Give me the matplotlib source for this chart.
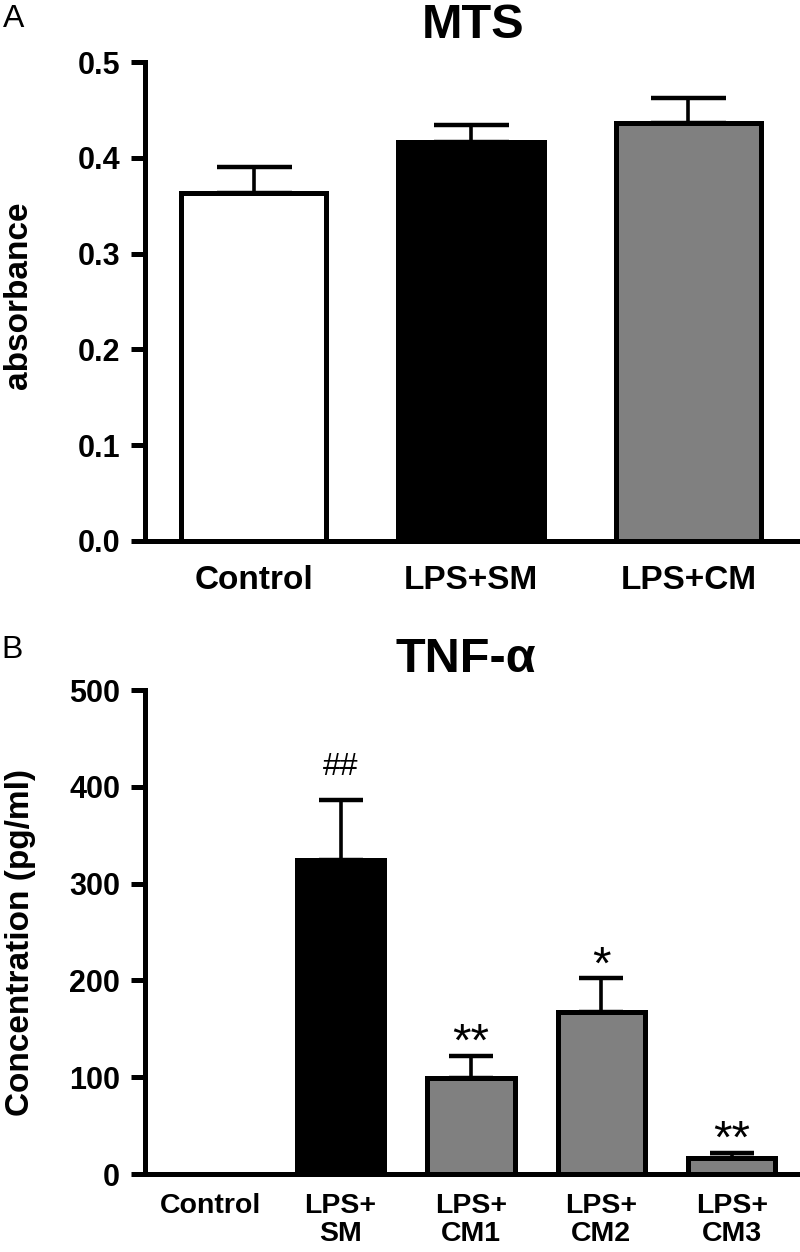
import matplotlib
matplotlib.use('Agg')
import matplotlib.pyplot as plt
import numpy as np

plt.rcParams['font.family'] = ['Liberation Sans', 'DejaVu Sans']

# ---- Panel A: MTS ----
mts_categories = ['Control', 'LPS+SM', 'LPS+CM']
mts_means = [0.363, 0.417, 0.436]
mts_sem = [0.027, 0.017, 0.026]
mts_colors = ['white', 'black', '#808080']
mts_yticks = [0.0, 0.1, 0.2, 0.3, 0.4, 0.5]
mts_yticklabels = ['0.0', '0.1', '0.2', '0.3', '0.4', '0.5']

# ---- Panel B: TNF-alpha ----
tnf_categories = ['Control', 'LPS+\nSM', 'LPS+\nCM1', 'LPS+\nCM2', 'LPS+\nCM3']
tnf_means = [0, 324, 99, 167, 16.5]
tnf_sem = [0, 62, 23, 35, 5]
tnf_colors = ['white', 'black', '#808080', '#808080', '#808080']
tnf_marks = ['', '##', '**', '*', '**']
tnf_yticks = [0, 100, 200, 300, 400, 500]

W, H = 800, 1252
fig = plt.figure(figsize=(W / 100, H / 100), dpi=100)

EDGE = 3.6


def style_axes(ax, xlabelsize, xpad):
    for s in ['top', 'right']:
        ax.spines[s].set_visible(False)
    for s in ['left', 'bottom']:
        ax.spines[s].set_linewidth(EDGE)
        ax.spines[s].set_capstyle('projecting')
    ax.tick_params(axis='y', direction='out', length=10, width=EDGE, pad=8,
                   labelsize=22)
    ax.tick_params(axis='x', length=0, pad=xpad, labelsize=xlabelsize)
    for lab in ax.get_xticklabels() + ax.get_yticklabels():
        lab.set_fontweight('bold')


# Panel A
axA = fig.add_axes([145 / W, (H - 541) / H, 652 / W, 479 / H])
xa = np.arange(len(mts_categories))
axA.bar(xa, mts_means, width=0.67, color=mts_colors, edgecolor='black',
        linewidth=EDGE, zorder=2)
axA.errorbar(xa, mts_means, yerr=[np.zeros(len(xa)), mts_sem], fmt='none',
             ecolor='black', elinewidth=2.6, capsize=27, capthick=3.2, zorder=3)
axA.set_xlim(-0.5, 2.5)
axA.set_ylim(0, 0.5)
axA.set_yticks(mts_yticks)
axA.set_yticklabels(mts_yticklabels)
axA.set_xticks(xa)
axA.set_xticklabels(mts_categories)
style_axes(axA, 24, 17)

# Panel B
axB = fig.add_axes([145 / W, (H - 1174) / H, 652 / W, 484 / H])
xb = np.arange(len(tnf_categories))
axB.bar(xb, tnf_means, width=0.67, color=tnf_colors, edgecolor='black',
        linewidth=EDGE, zorder=2)
axB.errorbar(xb[1:], tnf_means[1:], yerr=[np.zeros(len(xb) - 1), tnf_sem[1:]],
             fmt='none', ecolor='black', elinewidth=2.6, capsize=16,
             capthick=3.2, zorder=3)
axB.set_xlim(-0.5, 4.5)
axB.set_ylim(0, 500)
axB.set_yticks(tnf_yticks)
axB.set_xticks(xb)
axB.set_xticklabels(tnf_categories, linespacing=1.1)
style_axes(axB, 20.5, 14)

for i, mark in enumerate(tnf_marks):
    if not mark:
        continue
    top = tnf_means[i] + tnf_sem[i]
    if mark.startswith('#'):
        axB.annotate(mark, xy=(i, top), xytext=(0, 18), textcoords='offset points',
                     ha='center', va='baseline', fontsize=23)
    else:
        axB.annotate(mark, xy=(i, top), xytext=(0, 0), textcoords='offset points',
                     ha='center', va='baseline', fontsize=34)

# Y labels
fig.text(27 / W, (H - 295) / H, 'absorbance', rotation=90, rotation_mode='anchor',
         ha='center', va='baseline', fontsize=24, fontweight='bold')
fig.text(29 / W, (H - 942) / H, 'Concentration (pg/ml)', rotation=90,
         rotation_mode='anchor', ha='center', va='baseline', fontsize=24,
         fontweight='bold')

# Titles
fig.text(473 / W, (H - 38) / H, 'MTS', ha='center', va='baseline', fontsize=35,
         fontweight='bold')
fig.text(466 / W, (H - 672) / H, 'TNF-α', ha='center', va='baseline', fontsize=35,
         fontweight='bold')

# Panel letters
fig.text(3 / W, (H - 27) / H, 'A', ha='left', va='baseline', fontsize=23)
fig.text(1 / W, (H - 658) / H, 'B', ha='left', va='baseline', fontsize=23)

fig.savefig('out.png', dpi=100)
